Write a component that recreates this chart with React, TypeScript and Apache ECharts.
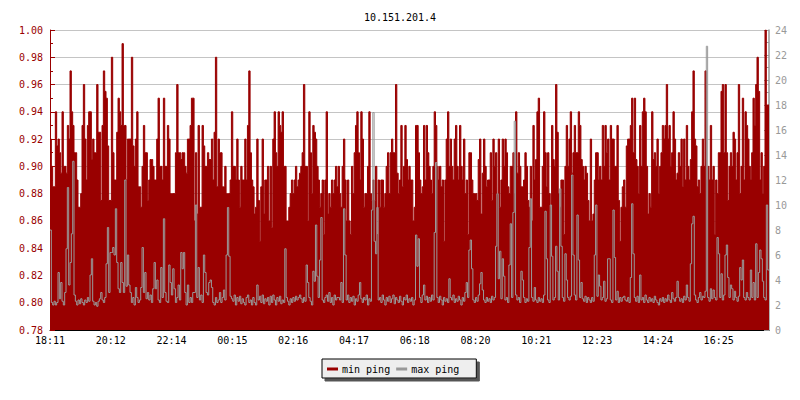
import { useEffect, useRef } from "react";
import * as echarts from "echarts";

const TITLE = "10.151.201.4";
const TIME_LABELS = ["18:11", "20:12", "22:14", "00:15", "02:16", "04:17", "06:18", "08:20", "10:21", "12:23", "14:24", "16:25"];
const X_TICK_STEP = 45.57;
const SERIES_NAMES = ["min ping", "max ping"];

// min ping (left axis), read left to right
const MIN_PING = [
  0.92, 0.90, 0.885, 0.885, 0.94, 0.915, 0.92, 0.91, 0.895, 0.94,
  0.90, 0.90, 0.895, 0.93, 0.92, 0.97, 0.94, 0.93, 0.91, 0.91,
  0.89, 0.87, 0.87, 0.88, 0.93, 0.96, 0.92, 0.89, 0.93, 0.94,
  0.94, 0.905, 0.92, 0.91, 0.91, 0.96, 0.925, 0.925, 0.875, 0.93,
  0.97, 0.955, 0.95, 0.915, 0.875, 0.875, 0.98, 0.91, 0.89, 0.89,
  0.925, 0.95, 0.94, 0.93, 0.99, 0.93, 0.93, 0.89, 0.92, 0.92,
  0.92, 0.98, 0.915, 0.90, 0.92, 0.94, 0.885, 0.885, 0.87, 0.90,
  0.93, 0.91, 0.91, 0.875, 0.89, 0.905, 0.905, 0.90, 0.89, 0.89,
  0.92, 0.95, 0.90, 0.90, 0.89, 0.95, 0.90, 0.90, 0.93, 0.92,
  0.88, 0.88, 0.88, 0.88, 0.91, 0.96, 0.91, 0.91, 0.905, 0.91,
  0.91, 0.90, 0.895, 0.92, 0.92, 0.93, 0.95, 0.95,
  0.86, 0.91, 0.865, 0.93, 0.87, 0.87, 0.93, 0.915, 0.90, 0.90,
  0.91, 0.905, 0.905, 0.92, 0.89, 0.925, 0.98, 0.885, 0.92, 0.91,
  0.91, 0.885, 0.885, 0.90, 0.88, 0.88, 0.88, 0.89, 0.94, 0.90,
  0.90, 0.89, 0.92, 0.89, 0.87, 0.90, 0.89, 0.89, 0.92, 0.89,
  0.93, 0.97, 0.91, 0.89, 0.885, 0.865, 0.87, 0.92, 0.875, 0.845,
  0.885, 0.92, 0.865, 0.89, 0.89, 0.90, 0.86, 0.90, 0.855, 0.92,
  0.94, 0.91, 0.90, 0.94, 0.93, 0.925, 0.94, 0.90, 0.90, 0.86,
  0.86, 0.87, 0.88, 0.89, 0.88, 0.89, 0.90, 0.885, 0.89, 0.895,
  0.90, 0.91, 0.96, 0.90, 0.90, 0.86, 0.94, 0.91, 0.88, 0.93,
  0.925, 0.92, 0.90, 0.89, 0.87, 0.88, 0.89, 0.85, 0.89, 0.94,
  0.865, 0.88, 0.87, 0.89, 0.88, 0.89, 0.90, 0.885,
  0.90, 0.88, 0.87, 0.90, 0.92, 0.89, 0.86, 0.89, 0.86, 0.85,
  0.90, 0.88, 0.91, 0.93, 0.94, 0.91, 0.89, 0.94, 0.92, 0.87,
  0.88, 0.88, 0.90, 0.94, 0.88, 0.875, 0.89, 0.875, 0.90, 0.85,
  0.89, 0.87, 0.89, 0.89, 0.87, 0.88, 0.90, 0.91, 0.88, 0.91,
  0.92, 0.91, 0.91, 0.96, 0.895, 0.88, 0.89, 0.93, 0.885, 0.90,
  0.93, 0.905, 0.89, 0.90, 0.89, 0.89, 0.86, 0.87, 0.93, 0.93,
  0.91, 0.89, 0.88, 0.885, 0.93, 0.89, 0.93, 0.91, 0.90, 0.89,
  0.88, 0.90, 0.94, 0.93, 0.90, 0.89, 0.90, 0.885, 0.89, 0.845,
  0.89, 0.92, 0.94, 0.90, 0.92, 0.90, 0.89, 0.92, 0.93, 0.90,
  0.89, 0.93, 0.90, 0.89, 0.92, 0.88, 0.89, 0.85, 0.91, 0.91,
  0.89, 0.88, 0.88, 0.88, 0.875, 0.905, 0.92, 0.865,
  0.895, 0.92, 0.90, 0.885, 0.89, 0.89, 0.91, 0.875, 0.92, 0.90,
  0.91, 0.88, 0.92, 0.87, 0.89, 0.92, 0.90, 0.92, 0.91, 0.885,
  0.88, 0.90, 0.90, 0.91, 0.88, 0.94, 0.895, 0.91, 0.90, 0.885,
  0.885, 0.89, 0.91, 0.90, 0.875, 0.87, 0.90, 0.86, 0.93, 0.89,
  0.905, 0.94, 0.95, 0.87, 0.87, 0.90, 0.94, 0.91, 0.885, 0.91,
  0.88, 0.87, 0.93, 0.905, 0.90, 0.96, 0.925, 0.88, 0.87, 0.89,
  0.89, 0.85, 0.90, 0.93, 0.90, 0.92, 0.94, 0.895, 0.91, 0.93,
  0.91, 0.91, 0.94, 0.93, 0.905, 0.90, 0.89, 0.90, 0.895, 0.875,
  0.86, 0.92, 0.86, 0.865, 0.89, 0.91, 0.91, 0.89, 0.90, 0.89,
  0.93, 0.90, 0.93, 0.91, 0.92, 0.89, 0.93, 0.92, 0.92, 0.90,
  0.90, 0.93, 0.875, 0.845, 0.87, 0.885, 0.89, 0.87,
  0.915, 0.92, 0.92, 0.93, 0.95, 0.91, 0.95, 0.905, 0.90, 0.88,
  0.93, 0.90, 0.94, 0.95, 0.94, 0.90, 0.865, 0.88, 0.87, 0.94,
  0.905, 0.91, 0.90, 0.92, 0.88, 0.90, 0.91, 0.93, 0.92, 0.93,
  0.96, 0.92, 0.93, 0.90, 0.91, 0.94, 0.92, 0.89, 0.895, 0.91,
  0.90, 0.92, 0.885, 0.92, 0.89, 0.93, 0.90, 0.89, 0.905, 0.94,
  0.97, 0.92, 0.915, 0.885, 0.89, 0.88, 0.90, 0.92, 0.90, 0.97,
  0.89, 0.90, 0.89, 0.93, 0.89, 0.90, 0.85, 0.89, 0.88, 0.91,
  0.91, 0.955, 0.96, 0.91, 0.96, 0.91, 0.875, 0.90, 0.91, 0.90,
  0.925, 0.92, 0.89, 0.91, 0.96, 0.88, 0.90, 0.95, 0.89, 0.94,
  0.93, 0.92, 0.90, 0.89, 0.91, 0.95, 0.93, 0.96, 0.98, 0.955,
  0.89, 0.91, 0.88, 0.90, 1.00, 0.945, 0.945,
];

// max ping (right axis, ms), read left to right
const MAX_PING = [
  8.0, 2.2, 2.0, 2.3, 2.0, 2.2, 4.6, 2.5, 3.8, 2.3,
  2.0, 3.0, 6.5, 11.4, 3.6, 5.4, 7.7, 13.5, 2.8, 2.3,
  2.0, 2.4, 2.1, 2.5, 2.2, 2.0, 2.4, 2.2, 2.6, 2.3,
  4.4, 5.7, 2.3, 2.0, 2.2, 1.9, 2.3, 2.5, 3.0, 2.4,
  2.2, 2.6, 5.3, 8.2, 3.0, 6.2, 6.2, 6.6, 6.0, 9.7,
  5.4, 3.3, 3.0, 5.4, 3.8, 3.0, 12.0, 3.5, 6.0, 3.6,
  3.0, 2.2, 2.6, 2.0, 3.4, 2.6, 2.2, 2.4, 3.4, 6.6,
  3.0, 4.6, 2.5, 3.0, 2.4, 2.8, 2.2, 3.3, 5.4, 3.3,
  4.0, 2.4, 2.2, 5.0, 2.6, 8.9, 3.0, 2.3, 2.2, 5.2,
  3.8, 2.8, 4.9, 3.3, 2.2, 2.6, 3.6, 2.4, 6.2, 4.9,
  6.2, 3.0, 2.0, 3.6, 2.2, 2.6, 2.2, 3.0,
  3.0, 10.0, 2.6, 5.0, 2.4, 2.8, 2.2, 6.0, 4.6, 3.0,
  2.8, 3.8, 4.0, 3.4, 2.2, 2.0, 2.6, 2.2, 2.4, 3.0,
  2.2, 2.6, 3.2, 2.4, 6.0, 9.8, 5.9, 2.7, 2.5, 2.3,
  2.8, 2.0, 2.6, 2.3, 2.7, 2.1, 2.5, 2.2, 2.0, 2.6,
  2.8, 2.2, 2.4, 2.0, 2.6, 2.2, 2.0, 3.6, 2.4, 2.7,
  2.2, 2.8, 2.1, 2.5, 2.3, 2.6, 2.0, 2.7, 2.2, 2.8,
  2.4, 2.0, 2.6, 2.3, 2.7, 2.1, 2.4, 2.2, 6.5, 2.6,
  2.3, 2.0, 2.5, 2.2, 2.6, 2.3, 2.7, 2.4, 2.6, 2.8,
  2.5, 2.2, 2.6, 2.3, 5.2, 3.8, 2.6, 2.3, 2.0, 4.7,
  3.9, 8.4, 4.3, 2.6, 5.6, 9.0, 2.4, 2.2, 2.6, 2.8,
  2.3, 3.0, 2.2, 2.6, 2.0, 2.8, 2.4, 2.6,
  2.6, 2.4, 3.8, 2.2, 9.7, 6.0, 2.4, 2.8, 2.2, 2.6,
  2.3, 2.7, 2.0, 2.5, 2.3, 2.8, 3.8, 2.5, 2.2, 2.6,
  2.4, 2.8, 2.0, 2.5, 2.3, 9.6, 17.4, 7.1, 6.1, 9.8,
  2.4, 2.6, 2.2, 2.8, 2.4, 2.0, 2.6, 2.3, 2.7, 2.2,
  2.5, 2.8, 2.1, 2.6, 2.4, 2.2, 2.7, 2.3, 2.0, 2.6,
  2.4, 2.8, 2.2, 2.5, 2.3, 2.6, 2.0, 2.4, 7.6, 5.1,
  7.3, 2.6, 2.2, 2.8, 3.6, 2.4, 2.7, 2.2, 2.6, 2.3,
  2.8, 2.4, 7.8, 13.4, 2.6, 2.2, 2.7, 2.4, 2.0, 2.6,
  2.3, 2.5, 2.2, 4.1, 2.6, 2.4, 2.8, 2.2, 2.5, 2.3,
  2.7, 2.4, 2.0, 2.6, 2.3, 3.0, 3.8, 2.6, 6.4, 7.2,
  4.9, 2.4, 2.2, 2.6, 2.3, 2.8, 3.7, 4.6,
  3.2, 2.4, 2.2, 2.6, 2.3, 2.5, 2.2, 2.7, 2.4, 2.6,
  6.7, 10.9, 4.1, 6.3, 2.5, 5.7, 4.3, 2.4, 2.6, 2.2,
  5.2, 8.5, 2.6, 9.4, 16.7, 2.8, 2.4, 2.6, 2.2, 4.7,
  4.0, 2.6, 2.2, 2.5, 2.3, 6.6, 10.5, 2.6, 2.3, 3.4,
  2.4, 2.2, 2.6, 2.3, 2.5, 2.2, 2.8, 9.5, 5.7, 2.4,
  2.2, 10.0, 5.9, 2.4, 2.6, 6.7, 4.7, 2.4, 11.3, 6.7,
  2.6, 2.3, 6.1, 4.0, 2.6, 2.4, 2.7, 12.4, 6.0, 2.8,
  2.4, 9.2, 5.6, 2.6, 3.8, 2.5, 2.3, 2.7, 2.2, 2.6,
  2.4, 2.2, 2.6, 2.3, 6.0, 10.0, 2.7, 4.4, 3.5, 2.4,
  2.6, 3.9, 2.3, 2.5, 5.7, 5.7, 2.4, 2.2, 9.6, 5.8,
  2.4, 3.1, 2.2, 2.6, 2.3, 2.6, 2.7, 2.4,
  2.3, 2.6, 2.2, 4.2, 10.1, 6.1, 2.6, 2.3, 2.7, 2.2,
  4.4, 2.4, 2.6, 2.2, 2.8, 2.4, 2.2, 2.6, 2.3, 2.5,
  2.2, 2.7, 2.4, 2.2, 2.0, 2.5, 2.3, 2.6, 2.2, 2.5,
  2.3, 2.8, 2.4, 2.2, 3.0, 2.5, 2.3, 2.6, 3.9, 2.6,
  2.3, 2.5, 2.2, 2.7, 2.4, 3.6, 2.6, 2.3, 5.3, 8.5,
  9.1, 2.8, 2.4, 2.2, 2.6, 3.0, 2.4, 2.7, 2.6, 3.1,
  22.7, 2.6, 2.3, 3.3, 2.5, 3.2, 2.6, 2.4, 7.4, 6.1,
  2.6, 4.5, 2.4, 2.8, 6.0, 6.8, 4.2, 2.6, 3.6, 3.3,
  2.4, 3.1, 2.6, 2.3, 2.7, 5.0, 4.0, 5.6, 2.6, 2.4,
  3.0, 2.6, 2.4, 4.8, 2.6, 3.8, 2.4, 6.9, 2.6, 4.6,
  6.4, 5.7, 3.9, 2.6, 2.4, 10.0, 4.8,
];

const FONT = "DejaVu Sans Mono";
const RED = "#990000";
const GRAY = "#999999";

function stepData(arr: number[]) {
  const pts = arr.map((v, i) => [i, v]);
  pts.push([arr.length, arr[arr.length - 1]]);
  return pts;
}

export default function App() {
  const ref = useRef<HTMLDivElement>(null);
  useEffect(() => {
    if (!ref.current) return;
    const chart = echarts.init(ref.current, null, { renderer: "svg" });
    const n = MIN_PING.length;
    chart.setOption({
      animation: false,
      backgroundColor: "#ffffff",
      textStyle: { fontFamily: FONT, fontSize: 10 },
      title: {
        text: TITLE,
        left: "center",
        top: 7,
        textStyle: { fontFamily: FONT, fontSize: 10, fontWeight: "normal", color: "#000" },
      },
      legend: {
        data: SERIES_NAMES,
        left: 322,
        top: 359,
        orient: "horizontal",
        icon: "rect",
        itemWidth: 11,
        itemHeight: 3,
        itemGap: 6,
        padding: [4, 17, 3, 5],
        backgroundColor: "#eeeeee",
        borderColor: "#000000",
        borderWidth: 1,
        borderRadius: 0,
        shadowColor: "#555555",
        shadowBlur: 0,
        shadowOffsetX: 3,
        shadowOffsetY: 3,
        textStyle: { fontFamily: FONT, fontSize: 10, color: "#000", lineHeight: 12, padding: [0, 0, 0, -1] },
      },
      grid: { left: 50, right: 31, top: 30, bottom: 70 },
      xAxis: {
        type: "value",
        min: 0,
        max: n,
        interval: X_TICK_STEP,
        axisLine: { show: true, lineStyle: { color: "#000" } },
        axisTick: { show: true, inside: true, length: 5, lineStyle: { color: "#000" } },
        axisLabel: {
          color: "#000",
          margin: 5,
          fontFamily: FONT,
          fontSize: 10,
          showMaxLabel: false,
          formatter: (v: number) => TIME_LABELS[Math.round(v / X_TICK_STEP)] ?? "",
        },
        splitLine: { show: false },
      },
      yAxis: [
        {
          type: "value",
          position: "left",
          min: 0.78,
          max: 1.0,
          interval: 0.02,
          axisLine: { show: true, lineStyle: { color: RED } },
          axisTick: { show: true, inside: true, length: 5, lineStyle: { color: RED } },
          minorTick: { show: true, splitNumber: 2, length: 3, lineStyle: { color: RED } },
          axisLabel: {
            color: RED,
            margin: 7,
            fontFamily: FONT,
            fontSize: 10,
            formatter: (v: number) => v.toFixed(2),
          },
          splitLine: { show: true, lineStyle: { color: "#c4c4c4", width: 1 } },
        },
        {
          type: "value",
          position: "right",
          min: 0,
          max: 24,
          interval: 2,
          axisLine: { show: true, lineStyle: { color: GRAY, width: 1.5 } },
          axisTick: { show: true, inside: true, length: 5, lineStyle: { color: GRAY } },
          minorTick: { show: true, splitNumber: 2, length: 3, lineStyle: { color: GRAY } },
          axisLabel: { color: GRAY, margin: 6, fontFamily: FONT, fontSize: 10 },
          splitLine: { show: false },
        },
      ],
      series: [
        {
          name: SERIES_NAMES[0],
          type: "line",
          yAxisIndex: 0,
          step: "end",
          symbol: "none",
          data: stepData(MIN_PING),
          lineStyle: { color: RED, width: 1 },
          itemStyle: { color: RED },
          areaStyle: { color: RED, opacity: 1, origin: "start" },
          z: 2,
        },
        {
          name: SERIES_NAMES[1],
          type: "line",
          yAxisIndex: 1,
          step: "end",
          symbol: "none",
          data: stepData(MAX_PING),
          lineStyle: { color: GRAY, width: 1 },
          itemStyle: { color: GRAY },
          z: 3,
        },
      ],
    });
    return () => chart.dispose();
  }, []);
  return <div ref={ref} style={{ position: "absolute", left: 0, top: 0, width: 800, height: 400 }} />;
}
